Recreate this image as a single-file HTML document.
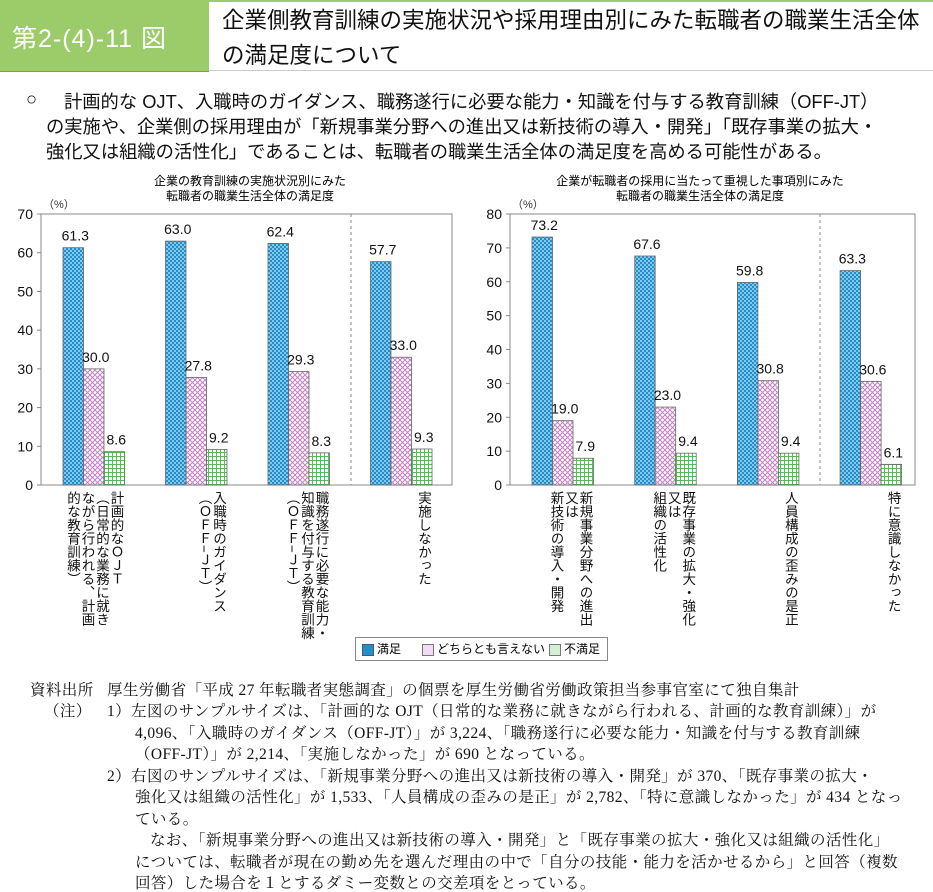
<!DOCTYPE html>
<html><head><meta charset="utf-8">
<style>
body{margin:0;background:#fff;font-family:"Liberation Sans","Noto Sans CJK JP",sans-serif;}
#root{position:relative;width:933px;height:892px;overflow:hidden;}
.abs{position:absolute;}
.vt{position:absolute;writing-mode:vertical-rl;font-size:13.5px;line-height:14.5px;color:#111;letter-spacing:0;white-space:pre;}
.note{position:absolute;font-family:"Liberation Serif","Noto Serif CJK SC",serif;font-size:15.5px;letter-spacing:0.4px;color:#111;white-space:nowrap;}
.sum{position:absolute;font-size:18.3px;color:#111;white-space:nowrap;}
</style></head><body>
<div id="root">
<div class="abs" style="left:0;top:0;width:209px;height:71px;background:#9ccc6a;border-bottom:1px solid #8a8a8a"></div>
<div class="abs" style="left:12px;top:19px;font-size:25px;color:#fff;letter-spacing:1px">第2-(4)-11 図</div>
<div class="abs" style="left:209px;top:0;width:724px;height:71px;border-top:2px solid #9ccc6a;border-bottom:1px solid #ccc;box-sizing:border-box"></div>
<div class="abs" style="left:222px;top:3px;font-size:22.5px;line-height:35px;color:#111">企業側教育訓練の実施状況や採用理由別にみた転職者の職業生活全体<br>の満足度について</div>
<div>
<div class="sum" style="left:26px;top:88px">○</div>
<div class="sum" style="left:64px;top:88px">計画的な OJT、入職時のガイダンス、職務遂行に必要な能力・知識を付与する教育訓練（OFF-JT）</div>
<div class="sum" style="left:46px;top:113px">の実施や、企業側の採用理由が「新規事業分野への進出又は新技術の導入・開発」「既存事業の拡大・</div>
<div class="sum" style="left:46px;top:138px">強化又は組織の活性化」であることは、転職者の職業生活全体の満足度を高める可能性がある。</div>
</div>
<div class="abs" style="left:130px;top:174px;width:240px;text-align:center;font-size:12px;line-height:15px">企業の教育訓練の実施状況別にみた<br>転職者の職業生活全体の満足度</div>
<div class="abs" style="left:550px;top:174px;width:300px;text-align:center;font-size:12px;line-height:15px">企業が転職者の採用に当たって重視した事項別にみた<br>転職者の職業生活全体の満足度</div>
<svg id="svg" class="abs" style="left:0;top:0" width="933" height="892">
<defs>
<pattern id="pBlue" width="4" height="4" patternUnits="userSpaceOnUse"><rect width="4" height="4" fill="#1f8fcf"/><circle cx="1" cy="1" r="0.9" fill="#cfeefc"/><circle cx="3" cy="3" r="0.9" fill="#cfeefc"/></pattern>
<pattern id="pPink" width="5" height="5" patternUnits="userSpaceOnUse"><rect width="5" height="5" fill="#fff"/><path d="M0 0L5 5M5 0L0 5" stroke="#c37fc3" stroke-width="1"/></pattern>
<pattern id="pGreen" width="4" height="4" patternUnits="userSpaceOnUse"><rect width="4" height="4" fill="#fff"/><path d="M0 0.5H4M0.5 0V4" stroke="#5cb85c" stroke-width="1"/></pattern>
</defs>
</svg>
<div class="abs" style="left:355px;top:637px;width:253px;height:24px;border:1px solid #888;box-sizing:border-box;font-size:12px;line-height:22px">
<span style="position:absolute;left:6px;top:6px;width:10px;height:10px;background:#1f8fcf;border:1px solid #555"></span><span style="position:absolute;left:21px">満足</span>
<span style="position:absolute;left:66px;top:6px;width:10px;height:10px;background:#f3dcf3;border:1px solid #777"></span><span style="position:absolute;left:81px">どちらとも言えない</span>
<span style="position:absolute;left:193px;top:6px;width:10px;height:10px;background:#d5efd5;border:1px solid #777"></span><span style="position:absolute;left:208px">不満足</span>
</div>
<div>
<div class="note" style="left:30px;top:678px">資料出所</div><div class="note" style="left:107px;top:678px">厚生労働省「平成 27 年転職者実態調査」の個票を厚生労働省労働政策担当参事官室にて独自集計</div>
<div class="note" style="left:44px;top:699px">（注）</div><div class="note" style="left:107px;top:699px">1）左図のサンプルサイズは、「計画的な OJT（日常的な業務に就きながら行われる、計画的な教育訓練）」が</div>
<div class="note" style="left:135px;top:721px">4,096、「入職時のガイダンス（OFF-JT）」が 3,224、「職務遂行に必要な能力・知識を付与する教育訓練</div>
<div class="note" style="left:135px;top:742px">（OFF-JT）」が 2,214、「実施しなかった」が 690 となっている。</div>
<div class="note" style="left:107px;top:764px">2）右図のサンプルサイズは、「新規事業分野への進出又は新技術の導入・開発」が 370、「既存事業の拡大・</div>
<div class="note" style="left:135px;top:785px">強化又は組織の活性化」が 1,533、「人員構成の歪みの是正」が 2,782、「特に意識しなかった」が 434 となっ</div>
<div class="note" style="left:135px;top:807px">ている。</div>
<div class="note" style="left:150px;top:828px">なお、「新規事業分野への進出又は新技術の導入・開発」と「既存事業の拡大・強化又は組織の活性化」</div>
<div class="note" style="left:135px;top:850px">については、転職者が現在の勤め先を選んだ理由の中で「自分の技能・能力を活かせるから」と回答（複数</div>
<div class="note" style="left:135px;top:871px">回答）した場合を１とするダミー変数との交差項をとっている。</div>
</div>
</div>
<script>
const leftCategories=["計画的なＯＪＴ\n（日常的な業務に就き\nながら行われる、計画\n的な教育訓練）","入職時のガイダンス\n（ＯＦＦ−ＪＴ）","職務遂行に必要な能力・\n知識を付与する教育訓練\n（ＯＦＦ−ＪＴ）","実施しなかった"];
const leftSatisfied=[61.3,63.0,62.4,57.7];
const leftNeutral=[30.0,27.8,29.3,33.0];
const leftDissatisfied=[8.6,9.2,8.3,9.3];
const leftTicks=[0,10,20,30,40,50,60,70];
const rightCategories=["新規事業分野への進出\n又は\n新技術の導入・開発","既存事業の拡大・強化\n又は\n組織の活性化","人員構成の歪みの是正","特に意識しなかった"];
const rightSatisfied=[73.2,67.6,59.8,63.3];
const rightNeutral=[19.0,23.0,30.8,30.6];
const rightDissatisfied=[7.9,9.4,9.4,6.1];
const rightTicks=[0,10,20,30,40,50,60,70,80];
const svg=document.getElementById('svg');
const root=document.getElementById('root');
const NS='http://www.w3.org/2000/svg';
function mk(tag,attrs){const e=document.createElementNS(NS,tag);for(const k in attrs)e.setAttribute(k,attrs[k]);svg.appendChild(e);return e;}
function chart(o){
  const y=v=>o.y0-(v/o.max)*(o.y0-o.y1);
  const frame=mk('rect',{x:o.x0,y:o.y1,width:o.x1-o.x0,height:o.y0-o.y1,fill:'none',stroke:'#888','stroke-width':1});
  
  
  const sep=mk('line',{x1:o.sep,x2:o.sep,y1:o.y1,y2:o.y0,stroke:'#888','stroke-dasharray':'3,3'});
  
  
  o.ticks.forEach(t=>{
    const ln=mk('line',{x1:o.x0-4,x2:o.x0,y1:y(t),y2:y(t),stroke:'#888'});
    
    
    const tx=mk('text',{x:o.x0-8,y:y(t)+5,'text-anchor':'end','font-size':14,fill:'#111'});
    tx.textContent=t;
    
    
  });
  const pct=mk('text',{x:o.x0+2,y:o.y1-6,'font-size':11,fill:'#333'});pct.textContent='（%）';
  
  
  const series=[[o.s,'url(#pBlue)','satisfied'],[o.n,'url(#pPink)','neutral'],[o.d,'url(#pGreen)','dissatisfied']];
  o.cats.forEach((c,i)=>{
    const gx=o.gx0+i*o.gstep;
    series.forEach((s,j)=>{
      const v=s[0][i];const bx=gx+j*o.bw;
      const r=mk('rect',{x:bx,y:y(v),width:o.bw,height:o.y0-y(v),fill:s[1],stroke:'#666','stroke-width':0.8});
      
      
      const t=mk('text',{x:bx+o.bw/2+2,y:y(v)-7,'text-anchor':'middle','font-size':14,fill:'#111'});
      t.textContent=v.toFixed(1);
      
      
    });
    const d=document.createElement('div');
    d.className='vt';
    d.textContent=c;
    d.style.right=(933-(gx+o.bw*3-2))+'px';
    d.style.top=(o.y0+6)+'px';
    
    
    root.appendChild(d);
  });
}
chart({name:'left',x0:41,x1:452,y0:485,y1:214,max:70,sep:351,ticks:leftTicks,cats:leftCategories,s:leftSatisfied,n:leftNeutral,d:leftDissatisfied,gx0:63,gstep:102.5,bw:20.5});
chart({name:'right',x0:510,x1:915,y0:485,y1:214,max:80,sep:820,ticks:rightTicks,cats:rightCategories,s:rightSatisfied,n:rightNeutral,d:rightDissatisfied,gx0:532,gstep:102.7,bw:20.5});
</script>
</body></html>
